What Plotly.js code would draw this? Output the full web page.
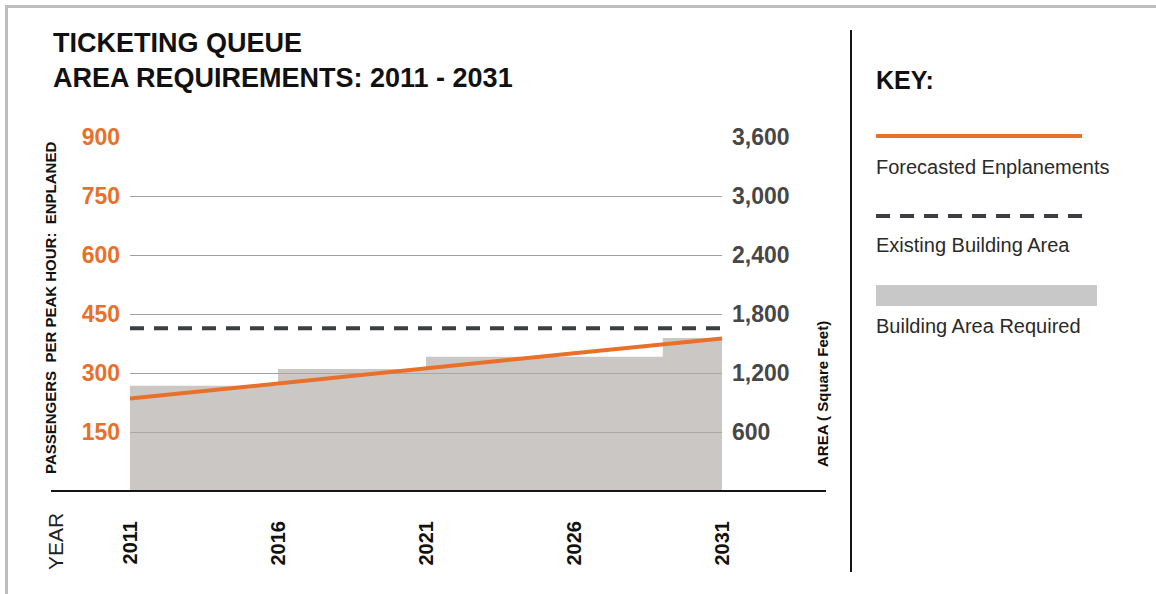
<!DOCTYPE html>
<html>
<head>
<meta charset="utf-8">
<script src="https://cdn.plot.ly/plotly-3.0.1.min.js"></script>
<style>html,body{margin:0;padding:0;background:#fff;}#chart{width:1156px;height:594px;}</style>
</head>
<body>
<div id="chart"></div>
<script>
// ---- data ----
const years = [2011, 2016, 2021, 2026, 2031];
const enplanements = [235, 274, 312, 350, 388];            // passengers per peak hour
const areaYears = [2011, 2016, 2021, 2029, 2031];
const areaRequired = [1070, 1240, 1365, 1555, 1555];       // square feet (step)
const existingYears = [2011, 2031];
const existingArea = [1655, 1655];                         // square feet
const leftTicks = [150, 300, 450, 600, 750, 900];
const rightTicks = [600, 1200, 1800, 2400, 3000, 3600];
const rightTickText = ['600', '1,200', '1,800', '2,400', '3,000', '3,600'];

// ---- geometry helpers (pixel -> paper) ----
const L = 130, R = 722, T = 137, B = 491;
const px = x => (x - L) / (R - L);
const py = y => (B - y) / (B - T);

const ORANGE = '#e8702a';
const DARK = '#3b3f43';
const FONT = 'Liberation Sans, Arial, sans-serif';

const traces = [
  {
    x: areaYears, y: areaRequired, yaxis: 'y', type: 'scatter', mode: 'lines',
    line: {shape: 'hv', width: 0, color: 'rgba(0,0,0,0)'},
    fill: 'tozeroy', fillcolor: 'rgba(176,170,166,0.66)', hoverinfo: 'skip', name: 'Building Area Required'
  },
  {
    x: existingYears, y: existingArea, yaxis: 'y', type: 'scatter', mode: 'lines',
    line: {color: DARK, width: 4, dash: '14px,10px'}, name: 'Existing Building Area'
  },
  {
    x: years, y: enplanements, yaxis: 'y2', type: 'scatter', mode: 'lines',
    line: {color: ORANGE, width: 4}, name: 'Forecasted Enplanements'
  }
];

const shapes = [
  // outer frame (top + left)
  {type: 'line', xref: 'paper', yref: 'paper', x0: px(5), x1: px(1160), y0: py(6.5), y1: py(6.5), line: {color: '#bdbdbd', width: 3}},
  {type: 'line', xref: 'paper', yref: 'paper', x0: px(6.5), x1: px(6.5), y0: py(5), y1: py(600), line: {color: '#bdbdbd', width: 3}},
  // baseline
  {type: 'line', xref: 'paper', yref: 'paper', x0: px(51), x1: px(826), y0: py(491), y1: py(491), line: {color: '#151515', width: 2}, layer: 'above'},
  // divider
  {type: 'line', xref: 'paper', yref: 'paper', x0: px(851), x1: px(851), y0: py(30), y1: py(572), line: {color: '#151515', width: 2}},
  // key samples
  {type: 'line', xref: 'paper', yref: 'paper', x0: px(876), x1: px(1082), y0: py(136), y1: py(136), line: {color: ORANGE, width: 4}},
  {type: 'line', xref: 'paper', yref: 'paper', x0: px(876), x1: px(1082), y0: py(216), y1: py(216), line: {color: DARK, width: 4, dash: '14px,10px'}},
  {type: 'rect', xref: 'paper', yref: 'paper', x0: px(876), x1: px(1097), y0: py(285), y1: py(306), fillcolor: '#c8c8c8', line: {width: 0}}
];

const ann = (text, x, y, opts) => Object.assign({
  text: text, xref: 'paper', yref: 'paper', x: px(x), y: py(y), showarrow: false,
  xanchor: 'left', yanchor: 'middle', font: {family: FONT, size: 18, color: '#222'}
}, opts || {});

const annotations = [
  ann('<b>TICKETING QUEUE</b>', 51, 43, {font: {family: FONT, size: 27, color: '#111'}}),
  ann('<b>AREA REQUIREMENTS: 2011 - 2031</b>', 51, 78, {font: {family: FONT, size: 27, color: '#111'}}),
  ann('<b>PASSENGERS\u00a0\u00a0PER PEAK HOUR:\u00a0\u00a0ENPLANED</b>', 50, 308, {xanchor: 'center', textangle: -90, font: {family: FONT, size: 15, color: '#111'}}),
  ann('<b>AREA ( Square Feet)</b>', 822, 394, {xanchor: 'center', textangle: -90, font: {family: FONT, size: 15, color: '#111'}}),
  ann('YEAR', 55, 542, {xanchor: 'center', textangle: -90, font: {family: FONT, size: 21, color: '#222'}}),
  ann('<b>KEY:</b>', 874, 80, {font: {family: FONT, size: 25, color: '#111'}}),
  ann('Forecasted Enplanements', 874, 167, {font: {family: FONT, size: 20, color: '#2a2a2a'}}),
  ann('Existing Building Area', 874, 245, {font: {family: FONT, size: 20, color: '#2a2a2a'}}),
  ann('Building Area Required', 874, 326, {font: {family: FONT, size: 20, color: '#2a2a2a'}})
];

const layout = {
  width: 1156, height: 594,
  margin: {l: L, r: 1156 - R, t: T, b: 594 - B, pad: 0},
  paper_bgcolor: '#fff', plot_bgcolor: 'rgba(0,0,0,0)',
  showlegend: false,
  xaxis: {
    range: [2011, 2031], tickvals: years, ticktext: years.map(String), tickangle: -90,
    showgrid: false, zeroline: false, showline: false, ticks: '',
    ticklabelstandoff: 25,
    tickfont: {family: FONT, size: 20, color: '#111', weight: 'bold'}
  },
  yaxis: {
    side: 'right', range: [0, 3600], tickvals: rightTicks, ticktext: rightTickText,
    showgrid: true, gridcolor: '#a0a0a0', gridwidth: 1, zeroline: false, showline: false, ticks: '',
    ticklabelstandoff: 9,
    tickfont: {family: FONT, size: 23, color: '#474747', weight: 'bold'}
  },
  yaxis2: {
    overlaying: 'y', side: 'left', range: [0, 900], tickvals: leftTicks,
    showgrid: false, zeroline: false, showline: false, ticks: '',
    ticklabelstandoff: 9,
    tickfont: {family: FONT, size: 23, color: ORANGE, weight: 'bold'}
  },
  shapes: shapes,
  annotations: annotations
};

Plotly.newPlot('chart', traces, layout, {staticPlot: true, displayModeBar: false});
</script>
</body>
</html>
